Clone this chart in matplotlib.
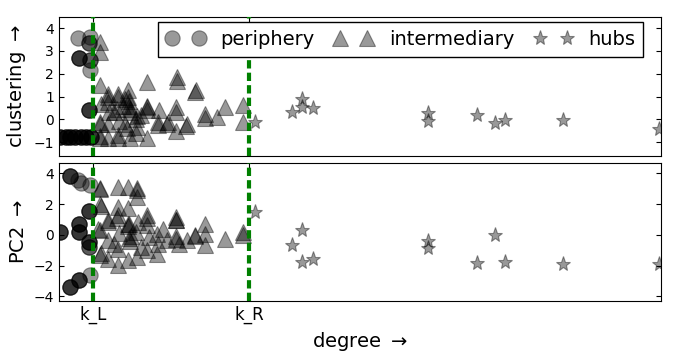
import numpy as np
import matplotlib
matplotlib.use('Agg')
import matplotlib.pyplot as plt

# thresholds on degree
k_L = 3.1
k_R = 17.35

# periphery (circles): degree, value, number of overlapping nodes
peri_deg_top = [1.76, 2.83, 2.77, 1.85, 2.83, 2.83, 2.77, 0.1, 0.6, 1.0, 1.5, 2.0, 2.5, 2.9]
peri_clust = [3.56, 3.63, 3.34, 2.67, 2.6, 2.15, 0.42, -0.77, -0.77, -0.77, -0.77, -0.77, -0.77, -0.77]
peri_n_top = [1, 1, 2, 3, 2, 1, 3, 3, 3, 3, 3, 3, 3, 3]

peri_deg_bot = [1.0, 1.76, 2.0, 2.83, 2.77, 1.85, 1.85, 0.1, 2.77, 2.77, 2.83, 1.85, 1.0]
peri_pc2 = [3.82, 3.56, 3.4, 3.24, 1.56, 0.74, 0.2, 0.2, -0.46, -0.79, -2.63, -2.91, -3.4]
peri_n_bot = [3, 1, 1, 1, 3, 3, 3, 3, 3, 2, 1, 3, 3]

# intermediary (triangles)
inter_deg_top = [3.75, 3.75, 3.7, 4.5, 4.5, 5.4, 5.4, 6.3, 6.3, 6.4, 6.4, 6.5, 6.5,
                 8.0, 10.8, 10.8, 12.5, 12.4, 3.8, 4.5, 5.3, 5.0, 7.1, 8.0, 8.0, 8.0,
                 9.1, 10.7, 10.7, 11.7, 13.3, 13.3, 9.9, 9.0, 9.0, 10.7, 8.0, 6.5,
                 5.4, 5.4, 4.5, 3.75, 3.75, 3.75, 3.75, 4.5, 5.5, 7.1, 6.0, 6.2, 7.0,
                 7.5, 5.8, 14.4, 15.2, 16.8, 16.8, 11.6, 10.0, 4.6, 6.0, 7.0]
inter_clust = [3.41, 2.96, 1.49, 1.12, 1.0, 1.12, 1.0, 1.27, 1.0, 0.8, 0.6, 0.45, 0.3,
               1.64, 1.86, 1.7, 1.27, 1.2, 0.68, 0.75, 0.46, 0.3, 0.16, 0.53, 0.4, 0.6,
               0.39, 0.53, 0.3, -0.2, 0.24, 0.05, -0.2, -0.13, -0.25, -0.5, -0.8, -0.8,
               -0.8, -0.7, -0.8, -0.8, -0.75, -0.13, -0.2, -0.2, -0.06, -0.35, -0.2, -0.4, 0.0,
               0.2, 0.6, 0.09, 0.53, 0.61, -0.13, -0.28, -0.1, 0.3, 0.9, -0.6]

inter_deg_bot = [3.75, 3.75, 5.42, 6.33, 7.17, 7.17, 7.17, 3.75, 3.8, 5.42, 6.33, 5.42,
                 5.3, 4.5, 4.5, 3.6, 3.75, 6.33, 6.33, 6.4, 7.2, 8.0, 8.0, 8.0, 8.2, 8.93,
                 9.07, 9.84, 10.69, 10.69, 10.69, 10.69, 10.69, 11.67, 12.43, 12.43, 13.34,
                 13.34, 13.34, 15.17, 16.84, 16.84, 4.5, 5.42, 3.75, 3.8, 4.5, 5.42, 7.17,
                 6.33, 8.0, 8.93, 6.4, 6.5, 6.6, 7.0, 5.5, 5.0, 9.5, 11.0, 7.5]
inter_pc2 = [3.05, 3.0, 3.1, 3.13, 3.05, 2.9, 2.5, 2.04, 1.9, 1.82, 1.72, 1.28,
             1.1, 0.95, 0.85, 0.41, 0.3, 0.74, 0.6, 0.7, 0.84, 1.28, 1.1, 0.63, -0.14, 0.09,
             -0.57, -0.35, 1.17, 1.0, 0.95, -0.24, -0.05, -0.35, 0.0, -0.1, 0.74,
             0.09, -0.68, -0.24, 0.19, 0.0, -0.35, -0.89, -1.33, -1.2, -1.55, -1.98, -1.44,
             -1.66, -1.0, -1.22, -0.2, -0.4, -0.1, 0.2, 0.1, -0.6, 0.4, -0.6, -0.8]

# hubs (stars)
hub_deg = [17.9, 21.26, 22.17, 22.17, 23.18, 33.74, 33.74, 38.16, 39.84, 40.78, 46.08, 54.8]
hub_clust = [-0.13, 0.34, 0.9, 0.53, 0.5, 0.27, -0.06, 0.21, -0.16, -0.03, -0.03, -0.42]
hub_pc2 = [1.5, -0.68, 0.3, -1.77, -1.59, -0.42, -0.83, -1.81, 0.02, -1.77, -1.87, -1.87]

plt.rcParams['xtick.direction'] = 'in'
plt.rcParams['ytick.direction'] = 'in'
plt.rcParams['xtick.top'] = True
plt.rcParams['ytick.right'] = True
plt.rcParams['legend.fancybox'] = False
plt.rcParams['legend.edgecolor'] = 'k'
plt.rcParams['legend.framealpha'] = 1.0

fig = plt.figure(figsize=(6.84, 3.54), dpi=100)
ax1 = fig.add_axes([0.0863, 0.560, 0.880, 0.3927])
ax2 = fig.add_axes([0.0863, 0.1497, 0.880, 0.3907])

sty = dict(ls='none', color='k', alpha=0.4, mew=0.8)

ax1.plot(np.repeat(peri_deg_top, peri_n_top), np.repeat(peri_clust, peri_n_top),
         'o', ms=11, label='periphery', **sty)
ax1.plot(inter_deg_top, inter_clust, '^', ms=12, label='intermediary', **sty)
ax1.plot(hub_deg, hub_clust, '*', ms=11, label='hubs', **sty)

ax2.plot(np.repeat(peri_deg_bot, peri_n_bot), np.repeat(peri_pc2, peri_n_bot),
         'o', ms=11, **sty)
ax2.plot(inter_deg_bot, inter_pc2, '^', ms=12, **sty)
ax2.plot(hub_deg, hub_pc2, '*', ms=11, **sty)

for ax in (ax1, ax2):
    ax.axvline(k_L, color='g', ls=(0, (2, 1)), lw=3, zorder=3)
    ax.axvline(k_R, color='g', ls=(0, (2, 1)), lw=3, zorder=3)
    ax.set_xlim(0, 55)
    ax.set_xticks([k_L, k_R])
    ax.tick_params(labelsize=10)

ax1.set_xticklabels([])
ax2.set_xticklabels(['k_L', 'k_R'], fontsize=12)
ax1.set_ylim(-1.6, 4.5)
ax1.set_yticks([-1, 0, 1, 2, 3, 4])
ax2.set_ylim(-4.3, 4.7)
ax2.set_yticks([-4, -2, 0, 2, 4])

ax1.set_ylabel(r'clustering $\rightarrow$', fontsize=14)
ax2.set_ylabel(r'PC2 $\rightarrow$', fontsize=14)
ax2.set_xlabel(r'degree $\rightarrow$', fontsize=14)

ax1.legend(loc='upper right', bbox_to_anchor=(0.970, 0.962), borderaxespad=0,
           ncol=3, numpoints=2, fontsize=14, columnspacing=1.0)

fig.savefig('out.png', dpi=100)
